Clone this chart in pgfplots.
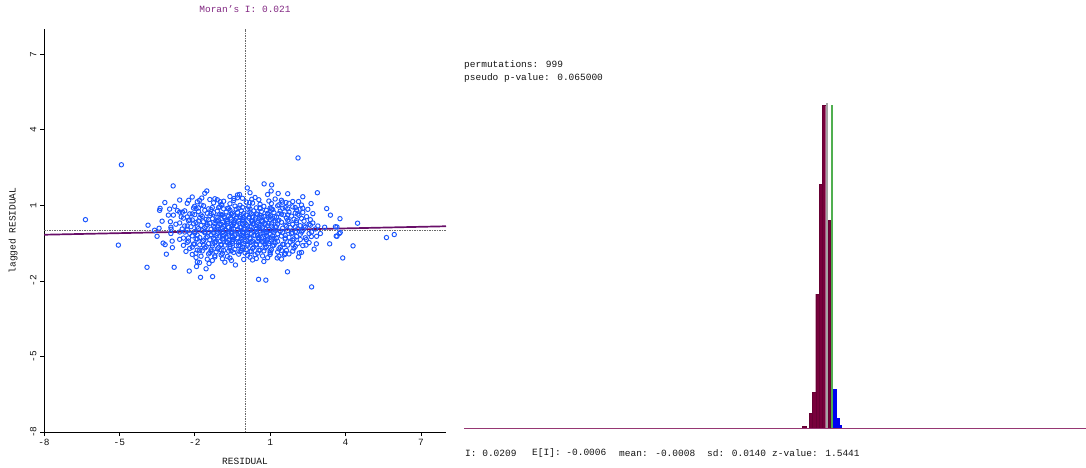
\documentclass[border=0pt]{standalone}
\usepackage{fontspec}
\setmainfont{Liberation Mono}
\setmonofont{Liberation Mono}
\usepackage{pgfplots}
\pgfplotsset{compat=1.18}
\definecolor{ptblue}{RGB}{25,85,255}
\definecolor{regpurple}{RGB}{105,15,105}
\definecolor{titlepurple}{RGB}{130,40,130}
\definecolor{histmaroon}{RGB}{120,0,60}
\definecolor{histblue}{RGB}{0,0,240}
\definecolor{histgreen}{RGB}{80,175,80}
\definecolor{histgray}{RGB}{165,165,165}
\definecolor{basecol}{RGB}{150,55,115}
\definecolor{txtgray}{RGB}{20,20,20}
\definecolor{dashgray}{RGB}{105,105,105}
\newcommand{\sz}{\fontsize{9.5}{11}\selectfont}
\begin{document}
\begin{tikzpicture}[x=1pt,y=1pt]
\path[use as bounding box] (0,0) rectangle (1086,467);
\begin{axis}[at={(44pt,35pt)}, anchor=south west, scale only axis,
  width=402pt, height=403pt,
  xmin=-8, xmax=8, ymin=-8, ymax=8,
  axis lines=left, axis line style={-, black, line width=0.8pt},
  xtick={-8,-5,-2,1,4,7}, ytick={-8,-5,-2,1,4,7},
  tick align=outside, major tick length=4pt, tick style={black, line width=0.6pt},
  ticklabel style={font=\sz, text=txtgray},
  /pgf/number format/assume math mode=true,
  yticklabel style={rotate=90, anchor=south},
  xlabel={RESIDUAL}, ylabel={lagged RESIDUAL},
  xlabel style={at={(axis description cs:0.5,-0.072)}, anchor=center, font=\sz, text=txtgray},
  ylabel style={at={(axis description cs:-0.077,0.5)}, anchor=center, font=\sz, text=txtgray},
  title={Moran's I: 0.021},
  title style={at={(axis description cs:0.5,1.035)}, anchor=center, font=\sz, text=titlepurple},
]
\addplot[only marks, mark=o, mark size=2.2pt, ptblue, mark options={line width=0.95pt}] coordinates {
(-4.92,2.61) (-6.35,0.43) (-5.04,-0.58) (-3.90,-1.46) (-3.86,0.21) (-2.86,1.77) (-2.82,-1.46) (-3.19,1.11) (-3.40,0.80) (-3.38,0.88) (-3.42,0.09) (-3.13,-0.94) (-3.26,-0.50) (-3.18,-0.56) (-2.89,-0.68) (-2.90,-0.42) (-2.97,0.35) (-3.05,0.61) (-2.94,0.05) (-2.95,-0.12) (-2.69,0.79) (-2.49,0.73) (-2.54,0.54) (-2.24,1.20) (-2.22,-1.61) (-1.77,-1.86) (-1.29,-1.83) (-1.93,-1.43) (-1.81,-1.27) (-1.90,-1.25) (-1.52,1.57) (-1.55,-1.52) (-1.43,-1.31) (-0.54,-1.19) (-0.38,-1.37) (0.09,1.69) (0.76,1.85) (1.06,1.81) (1.04,1.57) (2.11,2.88) (2.88,1.50) (2.63,1.07) (3.25,0.87) (3.78,0.47) (4.48,0.29) (5.63,-0.28) (5.94,-0.16) (4.30,-0.61) (3.89,-1.09) (3.37,-0.53) (2.84,-0.53) (2.75,-0.74) (2.65,-2.24) (1.69,-1.64) (0.54,-1.94) (0.83,-1.97) (0.75,-1.23) (1.28,-1.09) (1.57,-0.96) (3.66,-0.23) (3.75,-0.12) (3.66,0.14) (3.17,0.13) (3.00,-0.12) (2.43,-0.58) (2.44,-0.36) (2.13,-1.05) (2.16,-0.89) (2.13,1.15) (2.19,0.85) (2.00,0.91) (1.63,1.11) (1.49,1.13) (1.32,1.47) (0.27,1.24) (0.19,1.11) (-0.22,1.43) (-0.30,1.30) (-0.44,1.27) (-1.10,1.22) (-0.99,1.14) (-0.92,1.01) (-1.72,1.29) (-1.81,1.20) (-2.01,0.96)
(2.60,0.21) (3.79,-0.08) (3.63,-0.22) (2.64,-0.24)
(-1.6,1.48) (-0.3,1.41) (0.2,1.50) (0.9,1.43) (1.7,1.46)
(-2.1,1.33) (-1.2,1.26) (-0.6,1.35) (-0.1,1.28) (0.4,1.31) (1.2,1.25) (2.3,1.34)
(-2.6,1.21) (-1.9,1.14) (-1.4,1.23) (-0.85,1.16) (-0.45,1.19) (0.05,1.13) (0.55,1.22) (0.95,1.17) (1.45,1.20) (1.9,1.15)
(-2.3,1.08) (-1.75,1.01) (-1.25,1.10) (-0.95,1.03) (-0.6,1.06) (-0.2,1.00) (0.3,1.09) (0.6,1.04) (1.05,1.07) (1.35,1.02) (1.75,1.08) (2.25,1.01)
(-2.8,0.96) (-2.05,0.89) (-1.65,0.98) (-1.3,0.91) (-1.0,0.94) (-0.7,0.88) (-0.4,0.97) (-0.1,0.92) (0.15,0.95) (0.45,0.90) (0.75,0.96) (1.0,0.89) (1.3,0.98) (1.6,0.91) (1.9,0.94) (2.3,0.88)
(-3.0,0.85) (-2.4,0.78) (-1.95,0.87) (-1.6,0.80) (-1.35,0.83) (-1.1,0.77) (-0.85,0.86) (-0.6,0.81) (-0.35,0.84) (-0.15,0.79) (0.1,0.85) (0.35,0.78) (0.6,0.87) (0.85,0.80) (1.1,0.83) (1.4,0.77) (1.7,0.86) (2.05,0.81) (2.5,0.84)
(-2.6,0.73) (-2.2,0.66) (-1.85,0.75) (-1.5,0.68) (-1.25,0.71) (-1.0,0.65) (-0.75,0.74) (-0.5,0.69) (-0.3,0.72) (-0.05,0.67) (0.2,0.73) (0.45,0.66) (0.65,0.75) (0.9,0.68) (1.15,0.71) (1.45,0.65) (1.75,0.74) (2.0,0.69) (2.3,0.72) (2.7,0.67)
(-2.85,0.61) (-2.3,0.54) (-2.0,0.63) (-1.7,0.56) (-1.4,0.59) (-1.15,0.53) (-0.9,0.62) (-0.65,0.57) (-0.45,0.60) (-0.2,0.55) (0.05,0.61) (0.3,0.54) (0.5,0.63) (0.75,0.56) (1.0,0.59) (1.25,0.53) (1.55,0.62) (1.85,0.57) (2.15,0.60) (2.45,0.55) (3.4,0.61)
(-2.45,0.49) (-2.1,0.42) (-1.8,0.51) (-1.55,0.44) (-1.3,0.47) (-1.05,0.41) (-0.8,0.50) (-0.55,0.45) (-0.35,0.48) (-0.1,0.43) (0.15,0.49) (0.4,0.42) (0.6,0.51) (0.85,0.44) (1.1,0.47) (1.35,0.41) (1.65,0.50) (1.95,0.45) (2.25,0.48) (2.6,0.43)
(-3.3,0.37) (-2.6,0.30) (-2.25,0.39) (-1.95,0.32) (-1.65,0.35) (-1.4,0.29) (-1.15,0.38) (-0.9,0.33) (-0.7,0.36) (-0.45,0.31) (-0.25,0.37) (0.0,0.30) (0.25,0.39) (0.5,0.32) (0.7,0.35) (0.95,0.29) (1.2,0.38) (1.45,0.33) (1.75,0.36) (2.05,0.31) (2.35,0.37) (2.7,0.30)
(-2.75,0.25) (-2.4,0.18) (-2.05,0.27) (-1.75,0.20) (-1.5,0.23) (-1.25,0.17) (-1.0,0.26) (-0.8,0.21) (-0.55,0.24) (-0.35,0.19) (-0.1,0.25) (0.1,0.18) (0.35,0.27) (0.6,0.20) (0.8,0.23) (1.05,0.17) (1.3,0.26) (1.6,0.21) (1.9,0.24) (2.2,0.19) (2.55,0.25) (2.9,0.18)
(-2.95,0.13) (-2.5,0.06) (-2.15,0.15) (-1.85,0.08) (-1.6,0.11) (-1.35,0.05) (-1.1,0.14) (-0.9,0.09) (-0.65,0.12) (-0.45,0.07) (-0.2,0.13) (0.0,0.06) (0.25,0.15) (0.45,0.08) (0.7,0.11) (0.95,0.05) (1.2,0.14) (1.5,0.09) (1.8,0.12) (2.1,0.07) (2.4,0.13) (2.8,0.06) (3.6,0.15)
(-3.6,0.01) (-2.6,-0.06) (-2.3,0.03) (-2.0,-0.04) (-1.7,-0.01) (-1.45,-0.07) (-1.2,0.02) (-1.0,-0.03) (-0.75,0.00) (-0.55,-0.05) (-0.3,0.01) (-0.1,-0.06) (0.15,0.03) (0.35,-0.04) (0.6,-0.01) (0.85,-0.07) (1.1,0.02) (1.4,-0.03) (1.7,0.00) (2.0,-0.05) (2.3,0.01) (2.65,-0.06)
(-2.2,-0.11) (-1.9,-0.18) (-1.6,-0.09) (-1.35,-0.16) (-1.1,-0.13) (-0.85,-0.19) (-0.65,-0.10) (-0.4,-0.15) (-0.2,-0.12) (0.05,-0.17) (0.25,-0.11) (0.5,-0.18) (0.75,-0.09) (1.0,-0.16) (1.3,-0.13) (1.6,-0.19) (1.9,-0.10) (2.2,-0.15) (2.55,-0.12)
(-3.5,-0.23) (-2.45,-0.30) (-2.1,-0.21) (-1.8,-0.28) (-1.5,-0.25) (-1.25,-0.31) (-1.0,-0.22) (-0.75,-0.27) (-0.5,-0.24) (-0.3,-0.29) (-0.05,-0.23) (0.2,-0.30) (0.4,-0.21) (0.65,-0.28) (0.9,-0.25) (1.15,-0.31) (1.45,-0.22) (1.75,-0.27) (2.05,-0.24) (2.4,-0.29) (2.85,-0.23)
(-2.6,-0.35) (-2.25,-0.42) (-1.95,-0.33) (-1.65,-0.40) (-1.4,-0.37) (-1.15,-0.43) (-0.9,-0.34) (-0.65,-0.39) (-0.45,-0.36) (-0.2,-0.41) (0.0,-0.35) (0.3,-0.42) (0.55,-0.33) (0.8,-0.40) (1.05,-0.37) (1.3,-0.43) (1.6,-0.34) (1.9,-0.39) (2.2,-0.36)
(-2.3,-0.47) (-2.0,-0.54) (-1.7,-0.45) (-1.45,-0.52) (-1.2,-0.49) (-0.95,-0.55) (-0.7,-0.46) (-0.5,-0.51) (-0.25,-0.48) (-0.05,-0.53) (0.2,-0.47) (0.45,-0.54) (0.7,-0.45) (0.95,-0.52) (1.2,-0.49) (1.5,-0.55) (1.8,-0.46) (2.1,-0.51) (2.55,-0.48)
(-2.45,-0.59) (-2.1,-0.66) (-1.8,-0.57) (-1.55,-0.64) (-1.3,-0.61) (-1.05,-0.67) (-0.8,-0.58) (-0.6,-0.63) (-0.35,-0.60) (-0.1,-0.65) (0.1,-0.59) (0.35,-0.66) (0.6,-0.57) (0.85,-0.64) (1.1,-0.61) (1.4,-0.67) (1.7,-0.58) (2.0,-0.63) (2.3,-0.60)
(-2.2,-0.71) (-1.9,-0.78) (-1.6,-0.69) (-1.35,-0.76) (-1.1,-0.73) (-0.85,-0.79) (-0.6,-0.70) (-0.4,-0.75) (-0.15,-0.72) (0.05,-0.77) (0.3,-0.71) (0.55,-0.78) (0.8,-0.69) (1.05,-0.76) (1.35,-0.73) (1.65,-0.79) (1.95,-0.70)
(-2.35,-0.83) (-1.95,-0.90) (-1.7,-0.81) (-1.4,-0.88) (-1.15,-0.85) (-0.9,-0.91) (-0.65,-0.82) (-0.45,-0.87) (-0.2,-0.84) (0.0,-0.89) (0.25,-0.83) (0.5,-0.90) (0.75,-0.81) (1.0,-0.88) (1.3,-0.85) (1.6,-0.91) (1.9,-0.82) (2.25,-0.87)
(-2.1,-0.95) (-1.75,-1.02) (-1.45,-0.93) (-1.2,-1.00) (-0.95,-0.97) (-0.7,-1.03) (-0.25,-0.94) (0.1,-0.99) (0.4,-0.96) (0.7,-1.01) (1.0,-0.95) (1.35,-1.02) (1.75,-0.93)
(-1.95,-1.07) (-1.5,-1.14) (-1.2,-1.05) (-0.9,-1.12) (-0.6,-1.09) (-0.05,-1.15) (0.2,-1.06) (0.45,-1.11) (0.9,-1.08) (1.45,-1.13)
(-1.3,-1.19) (-0.8,-1.26) (0.3,-1.17)
(-1.08,0.52) (-0.83,0.55) (-0.58,0.50) (-0.33,0.53) (-0.08,0.51) (0.17,0.54) (0.42,0.50) (0.67,0.53) (0.92,0.52) (1.17,0.55)
(-1.2,0.28) (-0.95,0.25) (-0.7,0.29) (-0.45,0.26) (-0.2,0.28) (0.05,0.24) (0.3,0.27) (0.55,0.25) (0.8,0.29) (1.05,0.26)
(-1.05,0.04) (-0.8,0.02) (-0.55,0.05) (-0.3,0.03) (-0.05,0.04) (0.2,0.01) (0.45,0.05) (0.7,0.02) (0.95,0.03) (1.2,0.01)
(-1.15,-0.20) (-0.9,-0.22) (-0.65,-0.19) (-0.4,-0.21) (-0.15,-0.20) (0.1,-0.23) (0.35,-0.19) (0.6,-0.22) (0.85,-0.20) (1.1,-0.21)
(-1.0,-0.44) (-0.75,-0.46) (-0.5,-0.43) (-0.25,-0.45) (0.0,-0.44) (0.25,-0.46) (0.5,-0.43) (0.75,-0.45) (1.0,-0.44)
(-1.85,0.90) (-1.45,0.86) (-1.05,0.91) (-0.65,0.87) (-0.25,0.89) (0.2,0.85) (0.6,0.90) (1.05,0.86) (1.5,0.88)
(-2.1,0.66) (-1.75,0.62) (-1.35,0.67) (-0.95,0.61) (-0.55,0.65) (-0.15,0.63) (0.25,0.66) (0.6,0.61) (0.95,0.64) (1.35,0.67) (1.7,0.62) (2.1,0.65)
(-2.2,0.42) (-1.85,0.38) (-1.45,0.43) (-1.1,0.37) (-0.75,0.41) (-0.4,0.39) (-0.05,0.42) (0.3,0.37) (0.65,0.40) (1.0,0.43) (1.3,0.38) (1.7,0.41) (2.05,0.39)
(-2.3,0.18) (-1.9,0.14) (-1.55,0.17) (-1.2,0.13) (-0.85,0.16) (-0.5,0.19) (-0.15,0.14) (0.2,0.17) (0.55,0.13) (0.9,0.18) (1.25,0.15) (1.65,0.17) (2.0,0.14) (2.35,0.18)
(-2.4,-0.06) (-2.0,-0.10) (-1.6,-0.05) (-1.25,-0.09) (-0.9,-0.07) (-0.55,-0.11) (-0.2,-0.06) (0.1,-0.09) (0.45,-0.05) (0.8,-0.10) (1.15,-0.07) (1.5,-0.08) (1.85,-0.11) (2.25,-0.06)
(-2.25,-0.30) (-1.9,-0.34) (-1.55,-0.29) (-1.2,-0.33) (-0.85,-0.31) (-0.5,-0.35) (-0.15,-0.30) (0.2,-0.33) (0.55,-0.29) (0.9,-0.34) (1.25,-0.31) (1.6,-0.30) (1.95,-0.33)
(-2.05,-0.54) (-1.65,-0.58) (-1.3,-0.53) (-0.95,-0.57) (-0.6,-0.55) (-0.25,-0.59) (0.1,-0.54) (0.45,-0.57) (0.8,-0.53) (1.15,-0.58) (1.55,-0.55) (1.9,-0.56)
(-1.8,-0.78) (-1.35,-0.82) (-0.95,-0.77) (-0.55,-0.81) (-0.15,-0.79) (0.2,-0.83) (0.6,-0.78) (1.0,-0.81) (1.45,-0.79)
};
\addplot[dashgray, line width=0.5pt, dash pattern=on 1.5pt off 1pt] coordinates {(0,-8) (0,8)};
\addplot[dashgray, line width=0.5pt, dash pattern=on 1.5pt off 1pt] coordinates {(-8,0) (8,0)};
\addplot[regpurple, line width=1.7pt] coordinates {(-8,-0.168) (8,0.168)};
\end{axis}
\begin{axis}[at={(464pt,39pt)}, anchor=south west, scale only axis,
  width=622pt, height=388pt,
  xmin=-1.6697, xmax=1.1915, ymin=0, ymax=388,
  hide axis, clip=false]
\addplot[ybar interval, fill=histmaroon, draw=histmaroon!85!black, line width=0.3pt] coordinates {
(-0.1149,1.5) (-0.0942,0) (-0.0804,15) (-0.0666,36) (-0.0519,134) (-0.0367,244) (-0.0229,323) (-0.0059,0) (0.0047,208) (0.0162,0)};
\addplot[ybar interval, fill=histblue, draw=histblue, line width=0.3pt] coordinates {
(0.0263,39) (0.0415,10) (0.0567,2.5) (0.0645,0)};
\addplot[histgray, line width=2.2pt] coordinates {(-0.0008,0) (-0.0008,325)};
\addplot[histgreen, line width=2pt] coordinates {(0.0208,0) (0.0208,323)};
\addplot[basecol, line width=1pt] coordinates {(-1.6697,0) (1.1915,0)};
\end{axis}
\begin{scope}[every node/.style={font=\sz, text=txtgray, inner sep=0pt, anchor=west}]
\node at (464,402) {permutations: 999};
\node at (464,389) {pseudo p-value: 0.065000};
\node at (465,14) {I: 0.0209};
\node at (532,14) {E[I]: -0.0006};
\node at (619,14) {mean: -0.0008};
\node at (707,14) {sd: 0.0140};
\node at (772,14) {z-value: 1.5441};
\end{scope}
\end{tikzpicture}
\end{document}
